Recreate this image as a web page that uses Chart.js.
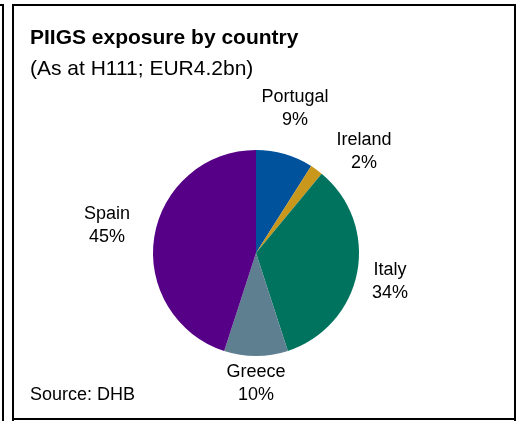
<!DOCTYPE html>
<html>
<head>
<meta charset="utf-8">
<script src="https://cdn.jsdelivr.net/npm/chart.js@4/dist/chart.umd.min.js"></script>
<style>
  html, body { margin: 0; padding: 0; background: #fff; }
  #wrap { position: relative; width: 524px; height: 421px; overflow: hidden; font-family: "Liberation Sans", Arial, sans-serif; }
  canvas { position: absolute; left: 0; top: 0; }
  .ln { position: absolute; background: #000; }
  .txt { position: absolute; color: #000; white-space: nowrap; line-height: 1.15; }
</style>
</head>
<body>
<div id="wrap">
  <canvas id="c" width="524" height="421"></canvas>
  <div class="ln" style="left:0;top:4px;width:4px;height:2px"></div>
  <div class="ln" style="left:2px;top:4px;width:2px;height:417px"></div>
  <div class="ln" style="left:12px;top:4px;width:504px;height:2px"></div>
  <div class="ln" style="left:12px;top:4px;width:2px;height:417px"></div>
  <div class="ln" style="left:514px;top:4px;width:2px;height:417px"></div>
  <div class="ln" style="left:12px;top:418px;width:504px;height:2px"></div>
  <div class="txt" id="title" style="left:30px;top:25px;font-weight:bold;font-size:21px"></div>
  <div class="txt" id="subtitle" style="left:30px;top:56px;font-size:21px"></div>
  <div class="txt" id="source" style="left:30px;top:384px;font-size:18px"></div>
</div>
<script>
const titleText = "PIIGS exposure by country";
const subtitleText = "(As at H111; EUR4.2bn)";
const sourceText = "Source: DHB";
const categories = ["Portugal", "Ireland", "Italy", "Greece", "Spain"];
const shares = [9, 2, 34, 10, 45];
const sliceColors = ["#00529C", "#C9971C", "#00735F", "#5E7F90", "#560087"];

document.getElementById('title').textContent = titleText;
document.getElementById('subtitle').textContent = subtitleText;
document.getElementById('source').textContent = sourceText;

// label placement relative to each arc: radial distance (x outer radius) and angular nudge (deg)
const labelLayout = {
  radius: [1.453, 1.439, 1.331, 1.267, 1.472],
  nudge: [-1.1, 10.8, 1.4, 0, 1.6]
};

const pieLabels = {
  id: 'pieLabels',
  afterDatasetsDraw(chart) {
    const ctx = chart.ctx;
    const meta = chart.getDatasetMeta(0);
    ctx.save();
    ctx.font = '18px "Liberation Sans", Arial, sans-serif';
    ctx.fillStyle = '#000';
    ctx.textAlign = 'center';
    ctx.textBaseline = 'middle';
    meta.data.forEach((arc, i) => {
      const p = arc.getProps(['x', 'y', 'startAngle', 'endAngle', 'outerRadius'], true);
      const mid = (p.startAngle + p.endAngle) / 2 + labelLayout.nudge[i] * Math.PI / 180;
      const d = p.outerRadius * labelLayout.radius[i];
      const cx = p.x + Math.cos(mid) * d;
      const cy = p.y + Math.sin(mid) * d;
      const val = chart.data.datasets[0].data[i];
      ctx.fillText(chart.data.labels[i], cx, cy - 11.5);
      ctx.fillText(val + '%', cx, cy + 11.5);
    });
    ctx.restore();
  }
};

new Chart(document.getElementById('c'), {
  type: 'pie',
  data: {
    labels: categories,
    datasets: [{
      data: shares,
      backgroundColor: sliceColors,
      borderWidth: 0
    }]
  },
  options: {
    responsive: false,
    animation: false,
    devicePixelRatio: 1,
    layout: { padding: { left: 153, right: 165, top: 150, bottom: 65 } },
    plugins: {
      legend: { display: false },
      tooltip: { enabled: false },
      title: { display: false }
    }
  },
  plugins: [pieLabels]
});
</script>
</body>
</html>
